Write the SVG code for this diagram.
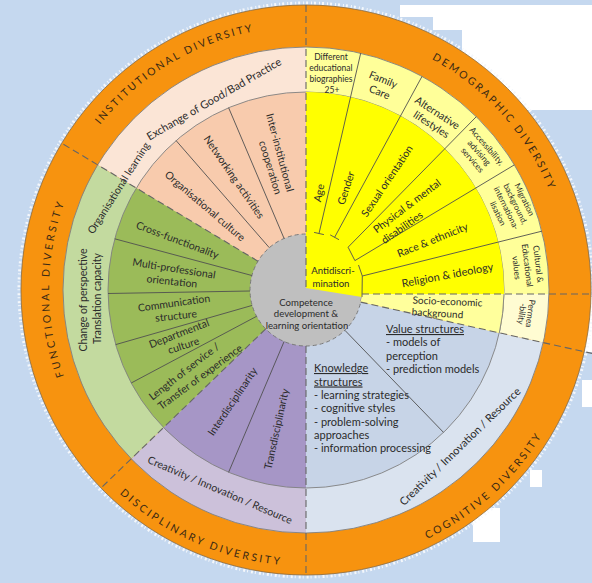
<svg xmlns="http://www.w3.org/2000/svg" xmlns:xlink="http://www.w3.org/1999/xlink" width="592" height="583" viewBox="0 0 592 583">
  <defs>
    <style>
      .t { font-family: Lato, "Liberation Sans", sans-serif; fill: #2b2b2b; }
      .f11 { font-size: 11px; }
      .f105 { font-size: 10.5px; }
      .f10 { font-size: 10px; }
      .f95 { font-size: 9.6px; }
      .f85 { font-size: 8.5px; }
      .f8 { font-size: 8.2px; }
      .cat { font-family: Lato, "Liberation Sans", sans-serif; font-size: 10.5px; fill: #3b2a14; }
      .ring { fill: none; stroke: #808080; stroke-width: 0.9; }
      .div { fill: none; stroke: #505050; stroke-width: 0.9; }
      .dash { fill: none; stroke: #666666; stroke-width: 1.1; stroke-dasharray: 7 4; }
      .mid { text-anchor: middle; }
    </style>
    <!-- arcs carrying the category names in the orange band -->
    <path id="pInst" d="M55.6,206.2 A264,264 0 0,1 345.0,28.9"/>
    <path id="pDemo" d="M342.6,29.6 A263,263 0 0,1 568.8,280.8"/>
    <path id="pFunc" d="M109.1,455.2 A257,257 0 0,1 109.1,124.8"/>
    <path id="pDisc" d="M57.9,411.0 A276,276 0 0,0 382.1,555.3"/>
    <path id="pCog" d="M315.7,566.8 A277,277 0 0,0 580.3,328.6"/>
  </defs>

  <!-- backdrop -->
  <rect x="0" y="0" width="592" height="583" fill="#c5d8ef"/>
  <g fill="#ffffff">
    <rect x="400" y="5" width="192" height="12"/>
    <rect x="433" y="5" width="159" height="25"/>
    <rect x="462" y="5" width="130" height="105"/>
    <rect x="585" y="297" width="7" height="55"/>
    <rect x="582" y="380" width="10" height="27"/>
    <rect x="530" y="470" width="12" height="17"/>
    <rect x="473" y="508" width="27" height="34"/>
  </g>

  <!-- outer band -->
  <circle cx="306" cy="290" r="287" fill="none" stroke="#f4f7fb" stroke-width="3" stroke-dasharray="2 3 1 2"/>
  <circle cx="306" cy="290" r="285" fill="#f7930f" stroke="#8c6a3c" stroke-width="0.8"/>

  <!-- category rings -->
  <g id="institutional">
    <path d="M306,290 L97.7,164.9 A243,243 0 0,1 306,47 Z" fill="#fbe5d6"/>
    <path d="M306,290 L136.3,188.0 A198,198 0 0,1 306,92 Z" fill="#f8cbad"/>
  </g>
  <g id="demographic">
    <path d="M306,290 L306,47 A243,243 0 0,1 549,294 L306,294 Z" fill="#ffff99"/>
    <path d="M549,294 A243,243 0 0,1 543.2,342.6 L499.3,332.9 A198,198 0 0,0 504,294 Z" fill="#fffcd2"/>
  </g>
  <g id="cognitive">
    <path d="M306,290 L543.2,342.6 A243,243 0 0,1 306,533 Z" fill="#dae3ef"/>
    <path d="M306,290 L499.3,332.9 A198,198 0 0,1 306,488 Z" fill="#c7d4e7"/>
  </g>
  <g id="disciplinary">
    <path d="M306,290 L306,533 A243,243 0 0,1 131.2,458.8 Z" fill="#ccc1da"/>
    <path d="M306,290 L306,488 A198,198 0 0,1 163.6,427.6 Z" fill="#a696c6"/>
  </g>
  <g id="functional">
    <path d="M306,290 L131.2,458.8 A243,243 0 0,1 97.7,164.9 Z" fill="#c3da9f"/>
    <path d="M306,290 L163.6,427.6 A198,198 0 0,1 136.3,188.0 Z" fill="#9bbb59"/>
  </g>

  <circle class="ring" cx="306" cy="290" r="243"/>
  <circle class="ring" cx="306" cy="290" r="198"/>

  <!-- hub -->
  <g id="hub">
    <circle cx="306" cy="290" r="56" fill="#bfbfbf" stroke="#7a7a7a" stroke-width="1" stroke-dasharray="4 3"/>
  </g>

  <!-- demographic inner segments over the hub -->
  <g id="demographic-inner">
    <path d="M306,288 L306,92 A198,198 0 0,1 504,294 L362,294 L362,297 Z" fill="#ffff00"/>
    <path d="M362,294 L504,294 A198,198 0 0,1 499.3,332.9 L360.7,302.1 Z" fill="#ffff9c"/>
    <path d="M504,294 A198,198 0 0,1 499.3,332.9" class="ring"/>
  </g>

  <!-- connectors -->
  <g id="connectors">
    <!-- sector dividers -->
    <line class="div" x1="269.3" y1="247.7" x2="176.1" y2="140.6"/>
    <line class="div" x1="284.1" y1="238.5" x2="228.6" y2="107.7"/>
    <line class="div" x1="256.6" y1="316.3" x2="131.2" y2="383.0"/>
    <line class="div" x1="252.2" y1="305.4" x2="115.7" y2="344.6"/>
    <line class="div" x1="250.0" y1="291.0" x2="108.0" y2="293.5"/>
    <line class="div" x1="251.9" y1="275.5" x2="114.7" y2="238.8"/>
    <line class="div" x1="284.1" y1="341.5" x2="228.6" y2="472.3"/>
    <line class="div" x1="344.9" y1="330.3" x2="443.5" y2="432.4"/>
    <!-- demographic dividers with end caps -->
    <line class="div" x1="319.0" y1="233.5" x2="360.7" y2="53.2"/>
    <line class="div" x1="314.1" y1="232.4" x2="323.9" y2="234.6"/>
    <line class="div" x1="334.6" y1="237.3" x2="422.0" y2="76.4"/>
    <line class="div" x1="330.2" y1="234.9" x2="339.0" y2="239.7"/>
    <polyline class="div" points="476.3,116.7 348.1,247.2 354.9,260.6 514.3,164.9"/>
    <line class="div" x1="362.3" y1="276.0" x2="541.8" y2="231.2"/>
    <polyline class="div" points="358.5,265 362.3,276 362,297"/>
    <!-- category boundaries -->
    <line class="dash" x1="306" y1="5" x2="306" y2="288"/>
    <line class="dash" x1="306" y1="346" x2="306" y2="575"/>
    <line class="dash" x1="360.7" y1="302.1" x2="592" y2="353.4"/>
    <line class="dash" x1="362" y1="294" x2="591" y2="294"/>
    <line class="dash" x1="265.7" y1="328.9" x2="101.0" y2="488.0"/>
    <line class="dash" x1="258.0" y1="261.2" x2="61.7" y2="143.2"/>
  </g>

  <!-- category names -->
  <g id="category-labels">
    <text class="cat"><textPath xlink:href="#pInst" href="#pInst" startOffset="50%" text-anchor="middle" textLength="182" lengthAdjust="spacing">INSTITUTIONAL DIVERSITY</textPath></text>
    <text class="cat"><textPath xlink:href="#pDemo" href="#pDemo" startOffset="50%" text-anchor="middle" textLength="178" lengthAdjust="spacing">DEMOGRAPHIC DIVERSITY</textPath></text>
    <text class="cat"><textPath xlink:href="#pFunc" href="#pFunc" startOffset="50%" text-anchor="middle" textLength="176" lengthAdjust="spacing">FUNCTIONAL DIVERSITY</textPath></text>
    <text class="cat"><textPath xlink:href="#pDisc" href="#pDisc" startOffset="50%" text-anchor="middle" textLength="178" lengthAdjust="spacing">DISCIPLINARY DIVERSITY</textPath></text>
    <text class="cat"><textPath xlink:href="#pCog" href="#pCog" startOffset="50%" text-anchor="middle" textLength="155" lengthAdjust="spacing">COGNITIVE DIVERSITY</textPath></text>
  </g>

  <!-- institutional labels -->
  <g id="institutional-labels" class="t mid">
    <text class="f11" transform="translate(214 99) rotate(-30)" dy=".35em">Exchange of Good/Bad Practice</text>
    <text class="f105" transform="translate(205 206) rotate(40.5)" dy=".35em">Organisational culture</text>
    <text class="f105" transform="translate(234 177) rotate(55.5)" dy=".35em">Networking activities</text>
    <text class="f105" transform="translate(280 152.5) rotate(75)" dy=".35em">Inter-institutional</text>
    <text class="f105" transform="translate(270.5 167.5) rotate(73)" dy=".35em">cooperation</text>
  </g>

  <!-- functional labels -->
  <g id="functional-labels" class="t mid">
    <text class="f105" transform="translate(118.5 188) rotate(-57.6)" dy=".35em">Organisational learning</text>
    <text class="f105" transform="translate(83 300) rotate(-90)" dy=".35em">Change of perspective</text>
    <text class="f105" transform="translate(97 298.5) rotate(-90)" dy=".35em">Translation capacity</text>
    <text class="f105" transform="translate(177.5 240) rotate(20.8)" dy=".35em">Cross-functionality</text>
    <text class="f105" transform="translate(174 268.5) rotate(9)" dy=".35em">Multi-professional</text>
    <text class="f105" transform="translate(172 281.3) rotate(6)" dy=".35em">orientation</text>
    <text class="f105" transform="translate(174 303) rotate(-8)" dy=".35em">Communication</text>
    <text class="f105" transform="translate(176 315.8) rotate(-6)" dy=".35em">structure</text>
    <text class="f105" transform="translate(179 333.5) rotate(-21)" dy=".35em">Departmental</text>
    <text class="f105" transform="translate(183.5 345.5) rotate(-18)" dy=".35em">culture</text>
    <text class="f105" transform="translate(184 371.5) rotate(-38)" dy=".35em">Length of service /</text>
    <text class="f105" transform="translate(200 377) rotate(-36.5)" dy=".35em">Transfer of experience</text>
  </g>

  <!-- disciplinary labels -->
  <g id="disciplinary-labels" class="t mid">
    <text class="f105" transform="translate(232.5 401.5) rotate(-56)" dy=".35em">Interdisciplinarity</text>
    <text class="f105" transform="translate(276.5 429) rotate(-77.7)" dy=".35em">Transdisciplinarity</text>
    <text class="f105" transform="translate(220 490) rotate(23.2)" dy=".35em">Creativity / Innovation / Resource</text>
  </g>

  <!-- cognitive labels -->
  <g id="cognitive-labels" class="t f11">
    <text class="mid" transform="translate(460 446.5) rotate(-44.2)" dy=".35em">Creativity / Innovation / Resource</text>
    <text x="386" y="333" text-decoration="underline">Value structures</text>
    <text x="386" y="346">- models of</text>
    <text x="386" y="359.5">perception</text>
    <text x="386" y="373">- prediction models</text>
    <text x="314" y="372" text-decoration="underline">Knowledge</text>
    <text x="314" y="385.5" text-decoration="underline">structures</text>
    <text x="314" y="399">- learning strategies</text>
    <text x="314" y="412">- cognitive styles</text>
    <text x="314" y="425.5">- problem-solving</text>
    <text x="314" y="439">approaches</text>
    <text x="314" y="452">- information processing</text>
  </g>

  <!-- hub label -->
  <g id="hub-label" class="t f95 mid">
    <text x="306" y="305.5">Competence</text>
    <text x="306" y="316.5">development &amp;</text>
    <text x="307" y="328.5">learning orientation</text>
  </g>

  <!-- demographic labels -->
  <g id="demographic-labels" class="t mid">
    <text class="f95" x="333" y="273.5">Antidiscri-</text>
    <text class="f95" x="331" y="286.5">mination</text>
    <text class="f105" transform="translate(319 193) rotate(-78)" dy=".35em">Age</text>
    <text class="f105" transform="translate(346 188) rotate(-72)" dy=".35em">Gender</text>
    <text class="f105" transform="translate(387 181) rotate(-56)" dy=".35em">Sexual orientation</text>
    <text class="f105" transform="translate(407 206) rotate(-37)" dy=".35em">Physical &amp; mental</text>
    <text class="f105" transform="translate(402 227.5) rotate(-35)" dy=".35em">disabilities</text>
    <text class="f105" transform="translate(432.5 240) rotate(-21.8)" dy=".35em">Race &amp; ethnicity</text>
    <text class="f11" transform="translate(447.5 275) rotate(-10.7)" dy=".35em">Religion &amp; ideology</text>
    <text class="f10" transform="translate(447.5 301.5) rotate(2.5)" dy=".35em">Socio-economic</text>
    <text class="f10" transform="translate(437.5 313.3) rotate(3.5)" dy=".35em">background</text>
    <text class="f85" transform="translate(530.5 313.5) rotate(98)" dy=".35em">Permea</text>
    <text class="f85" transform="translate(522 314) rotate(98)" dy=".35em">-bility</text>
    <text class="f85" transform="translate(527.5 266.5) rotate(83)">
      <tspan x="0" y="-8">Cultural &amp;</tspan>
      <tspan x="0" y="3">Educational</tspan>
      <tspan x="0" y="14">values</tspan>
    </text>
    <text class="f8" transform="translate(511.5 207) rotate(64)">
      <tspan x="0" y="-12">Migration</tspan>
      <tspan x="0" y="-2">background,</tspan>
      <tspan x="0" y="8">internationa-</tspan>
      <tspan x="0" y="18">lisation</tspan>
    </text>
    <text class="f85" transform="translate(480 153.5) rotate(49)">
      <tspan x="0" y="-7">Accessibility,</tspan>
      <tspan x="0" y="3">advising</tspan>
      <tspan x="0" y="13">services</tspan>
    </text>
    <text class="f105" transform="translate(435 119) rotate(33)">
      <tspan x="0" y="-2.8">Alternative</tspan>
      <tspan x="0" y="10.2">lifestyles</tspan>
    </text>
    <text class="f105" transform="translate(382 86) rotate(22)">
      <tspan x="0" y="-2.8">Family</tspan>
      <tspan x="0" y="10.2">Care</tspan>
    </text>
    <text class="f85" transform="translate(332 73.5)">
      <tspan x="0" y="-13.5">Different</tspan>
      <tspan x="0" y="-2.5">educational</tspan>
      <tspan x="0" y="8.5">biographies</tspan>
      <tspan x="0" y="19.5">25+</tspan>
    </text>
  </g>
</svg>
